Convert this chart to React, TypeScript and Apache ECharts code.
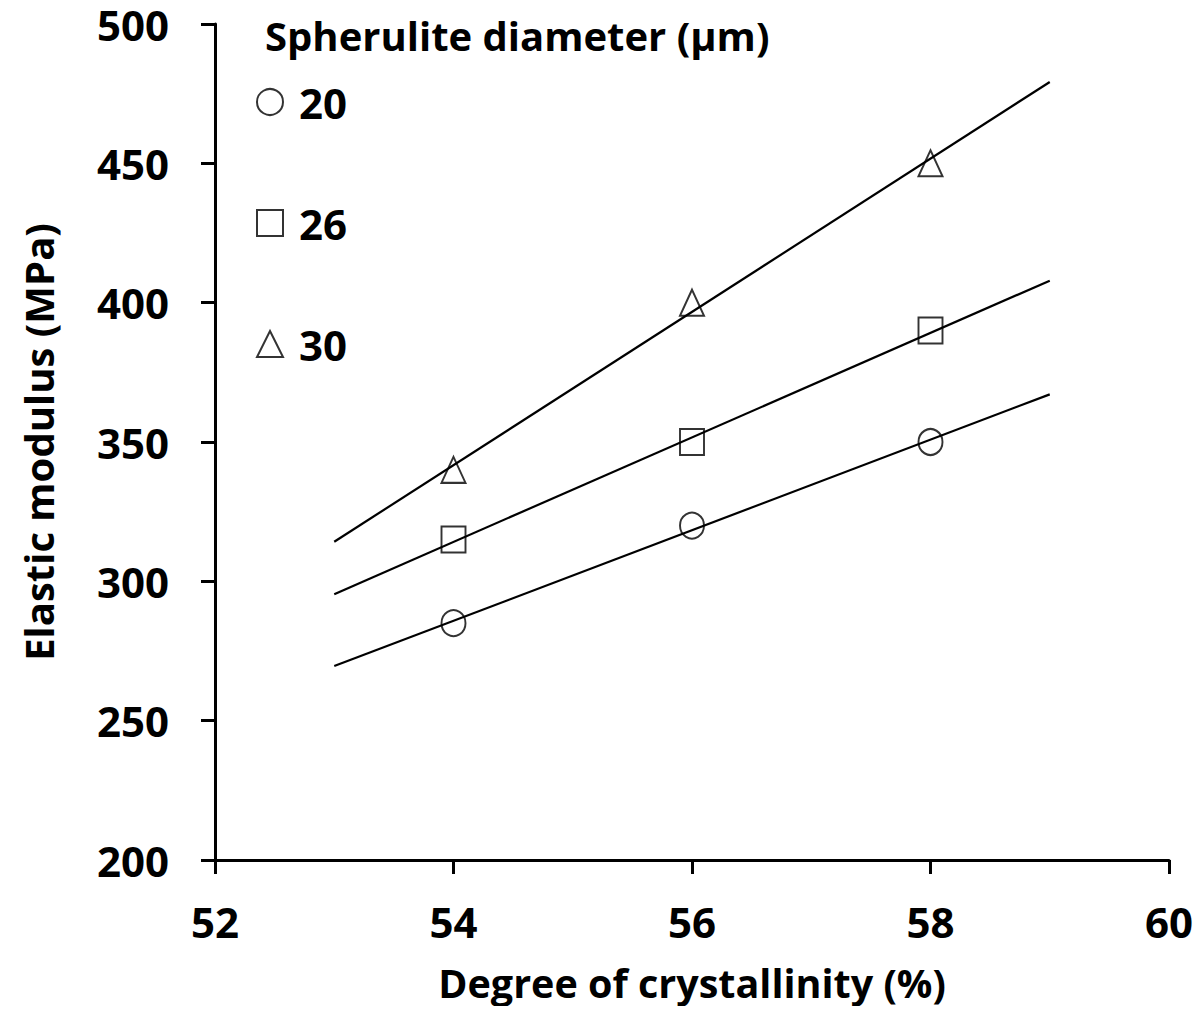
import React, { useEffect, useRef } from "react";
import * as echarts from "echarts";

const crystallinity = [54, 56, 58];
const modulus20 = [285, 320, 350];
const modulus26 = [315, 350, 390];
const modulus30 = [340, 400, 450];
const trendX = [53, 59];
const trend20 = [269.6, 367.1];
const trend26 = [295.4, 407.9];
const trend30 = [314.2, 479.2];
const seriesNames = ["20", "26", "30"];

const FONT = "Open Sans";

function pairs(xs: number[], ys: number[]) {
  return xs.map((x, i) => [x, ys[i]]);
}

export default function App() {
  const ref = useRef<HTMLDivElement>(null);
  useEffect(() => {
    if (!ref.current) return;
    const chart = echarts.init(ref.current, null, { renderer: "svg" });
    const markerStyle = { color: "rgba(0,0,0,0)", borderColor: "#000000", borderWidth: 2 };
    const trend = (data: number[][]) => ({
      type: "line",
      data,
      showSymbol: false,
      symbol: "none",
      lineStyle: { color: "#000", width: 2.2 },
      silent: true,
      z: 1,
    });
    const scatter = (name: string, symbol: string, ys: number[]) => ({
      type: "scatter",
      name,
      symbol,
      symbolSize: [24, 26],
      data: pairs(crystallinity, ys),
      itemStyle: markerStyle,
      z: 3,
    });
    chart.setOption({
      animation: false,
      backgroundColor: "#ffffff",
      textStyle: { fontFamily: FONT },
      grid: { left: 215, right: 32, top: 24, bottom: 154, containLabel: false },
      title: {
        text: "Spherulite diameter (\u03bcm)",
        left: 260,
        top: 10,
        textStyle: { fontFamily: FONT, fontWeight: "bold", fontSize: 40, color: "#000" },
      },
      legend: {
        data: seriesNames,
        orient: "vertical",
        left: 251,
        top: 75,
        itemWidth: 26,
        itemHeight: 26,
        itemGap: 77,
        textStyle: {
          fontFamily: FONT,
          fontWeight: "bold",
          fontSize: 42,
          color: "#000",
          lineHeight: 44,
          padding: [0, 0, 0, 11],
        },
        selectedMode: false,
      },
      xAxis: {
        type: "value",
        min: 52,
        max: 60,
        interval: 2,
        name: "Degree of crystallinity (%)",
        nameLocation: "middle",
        nameGap: 101,
        nameTextStyle: { fontFamily: FONT, fontWeight: "bold", fontSize: 39.5, color: "#000", lineHeight: 44 },
        axisLine: { show: true, lineStyle: { color: "#000", width: 3 } },
        axisTick: { show: true, inside: false, length: 14, lineStyle: { color: "#000", width: 3 } },
        axisLabel: { fontFamily: FONT, fontWeight: "bold", fontSize: 42, color: "#000", margin: 40, lineHeight: 42 },
        splitLine: { show: false },
      },
      yAxis: {
        type: "value",
        min: 200,
        max: 500,
        interval: 50,
        name: "Elastic modulus (MPa)",
        nameLocation: "middle",
        nameGap: 157,
        nameRotate: 90,
        nameTextStyle: { fontFamily: FONT, fontWeight: "bold", fontSize: 40, color: "#000" },
        axisLine: { show: true, lineStyle: { color: "#000", width: 3 } },
        axisTick: { show: true, inside: false, length: 14, lineStyle: { color: "#000", width: 3 } },
        axisLabel: { fontFamily: FONT, fontWeight: "bold", fontSize: 42, color: "#000", margin: 46, lineHeight: 40 },
        splitLine: { show: false },
      },
      series: [
        trend(pairs(trendX, trend20)),
        trend(pairs(trendX, trend26)),
        trend(pairs(trendX, trend30)),
        scatter(seriesNames[0], "circle", modulus20),
        scatter(seriesNames[1], "rect", modulus26),
        scatter(seriesNames[2], "triangle", modulus30),
      ],
    });
    return () => chart.dispose();
  }, []);
  return <div ref={ref} style={{ width: 1201, height: 1014, margin: -8 }} />;
}
